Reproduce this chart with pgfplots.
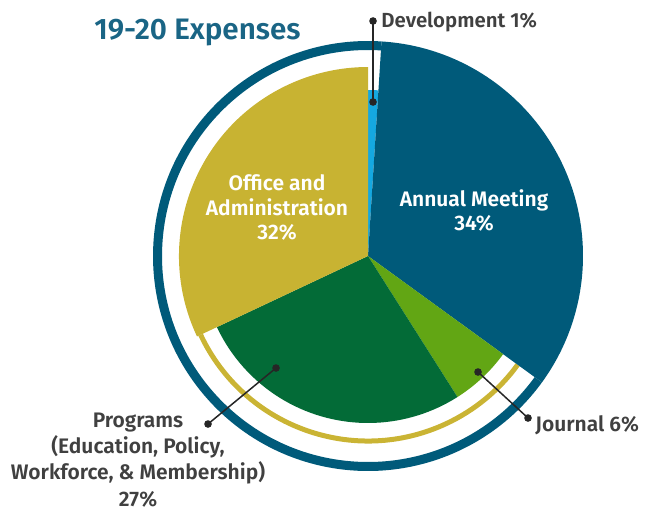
\documentclass[border=0pt]{standalone}
\usepackage{pgfplots}
\pgfplotsset{compat=1.18}
\usepackage{fontspec}
\IfFontExistsTF{Fira Sans SemiBold}{\setmainfont{Fira Sans}[BoldFont={Fira Sans SemiBold}]}{\setmainfont{Fira Sans}}
\definecolor{am}{HTML}{005A7A}
\definecolor{office}{HTML}{C8B332}
\definecolor{prog}{HTML}{036B37}
\definecolor{journal}{HTML}{62A614}
\definecolor{dev}{HTML}{15A8E0}
\definecolor{ring}{HTML}{005A7A}
\definecolor{goldarc}{HTML}{CAB434}
\definecolor{titleblue}{HTML}{1A6585}
\definecolor{lbl}{HTML}{404040}
\begin{document}
\begin{tikzpicture}
\begin{axis}[scale only axis, width=325.5pt, height=255pt,
  xmin=0, xmax=651, ymin=0, ymax=510, hide axis, clip=false]
\path (axis cs:0,0) rectangle (axis cs:651,510);
% shares (percent): Development 1, Annual Meeting 34, Journal 6, Programs 27, Office 32
% angles: 90 -> 86.4 -> -36 -> -57.6 -> -154.8 -> -270
\draw[ring, line width=4.5pt] (axis cs:368,254) ++(86.4:105.25pt) arc[start angle=86.4, end angle=324, radius=105.25pt];
\draw[goldarc, line width=2.5pt] (axis cs:368,254) ++(-154.8:92.5pt) arc[start angle=-154.8, end angle=-36, radius=92.5pt];
\fill[dev] (axis cs:368,254) -- ++(90:83pt) arc[start angle=90, end angle=86.4, radius=83pt] -- cycle;
\fill[am] (axis cs:368,254) -- ++(86.4:107.5pt) arc[start angle=86.4, end angle=-36, radius=107.5pt] -- cycle;
\fill[journal] (axis cs:368,254) -- ++(-36:83.5pt) arc[start angle=-36, end angle=-57.6, radius=83.5pt] -- cycle;
\fill[prog] (axis cs:368,254) -- ++(-57.6:83.5pt) arc[start angle=-57.6, end angle=-154.8, radius=83.5pt] -- cycle;
\fill[office] (axis cs:368,254) -- ++(-154.8:94.5pt) arc[start angle=-154.8, end angle=-270, radius=94.5pt] -- cycle;
% leader lines
\addplot[color=black!85, line width=0.75pt, mark=*, mark size=1.5pt] coordinates {(373,408) (373,489)};
\addplot[color=black!85, line width=0.75pt, mark=*, mark size=1.5pt] coordinates {(478,138) (528,92)};
\addplot[color=black!85, line width=0.75pt, mark=*, mark size=1.5pt] coordinates {(276,142) (208,86)};
% texts
\node[anchor=base west, inner sep=0, text=titleblue, font=\fontsize{14.8}{17}\selectfont\bfseries] at (axis cs:94,470.7) {19-20 Expenses};
\node[anchor=base west, inner sep=0, text=lbl, font=\fontsize{10.2}{12}\selectfont\bfseries] at (axis cs:381,482.7) {Development 1\%};
\node[anchor=base west, inner sep=0, text=lbl, font=\fontsize{10.5}{12}\selectfont\bfseries] at (axis cs:535,79) {Journal 6\%};
\begin{scope}[every node/.style={anchor=base, inner sep=0, text=white, font=\fontsize{10.5}{12}\selectfont\bfseries}]
\node at (axis cs:474,303.3) {Annual Meeting};
\node at (axis cs:474,279.3) {34\%};
\node at (axis cs:277,319.3) {Office and};
\node at (axis cs:277,295) {Administration};
\node at (axis cs:277,271) {32\%};
\end{scope}
\begin{scope}[every node/.style={anchor=base, inner sep=0, text=lbl, font=\fontsize{10.5}{12}\selectfont\bfseries}]
\node at (axis cs:138,83) {Programs};
\node at (axis cs:138,57) {(Education, Policy,};
\node at (axis cs:138,30.5) {Workforce, \& Membership)};
\node at (axis cs:138,4) {27\%};
\end{scope}
\end{axis}
\end{tikzpicture}
\end{document}
